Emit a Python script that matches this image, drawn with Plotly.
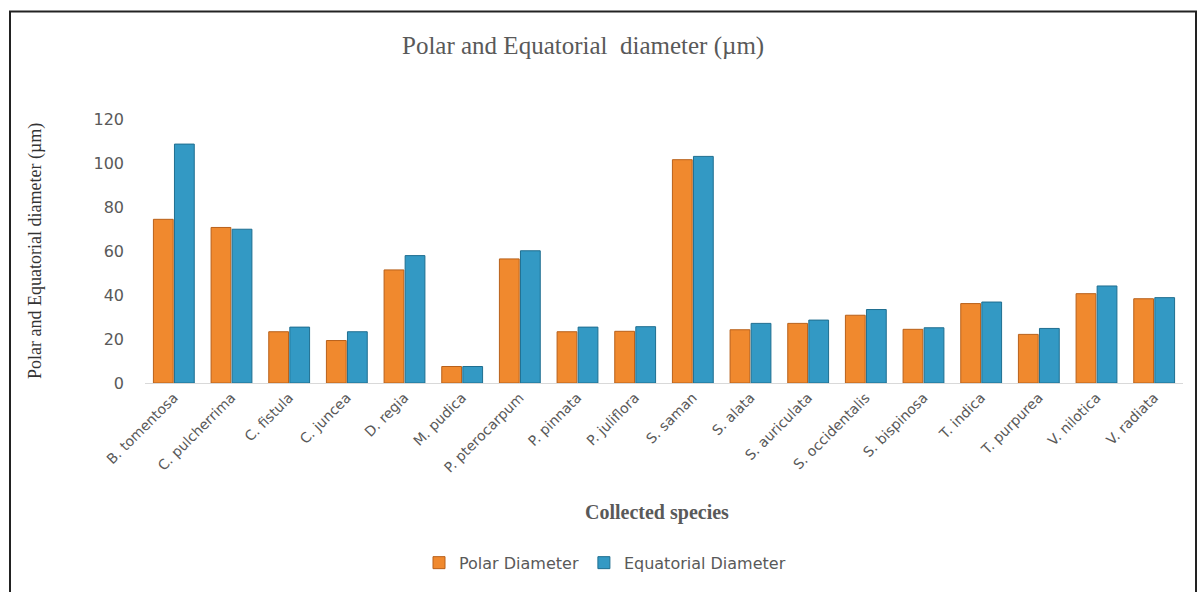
import plotly.graph_objects as go

species = ["B. tomentosa", "C. pulcherrima", "C. fistula", "C. juncea", "D. regia",
           "M. pudica", "P. pterocarpum", "P. pinnata", "P. juliflora", "S. saman",
           "S. alata", "S. auriculata", "S. occidentalis", "S. bispinosa", "T. indica",
           "T. purpurea", "V. nilotica", "V. radiata"]
polar = [74.4, 70.7, 23.3, 19.3, 51.4, 7.5, 56.4, 23.3, 23.5, 101.5,
         24.2, 27.1, 30.8, 24.4, 36.1, 22.1, 40.6, 38.3]
equatorial = [108.6, 69.9, 25.4, 23.3, 57.9, 7.5, 60.1, 25.4, 25.6, 103.0,
              27.1, 28.6, 33.4, 25.1, 36.8, 24.8, 44.1, 38.8]
y_ticks = [0, 20, 40, 60, 80, 100, 120]

W, H = 1198, 592
L, R, T, B = 145, 15, 97, 207
pw, ph = W - L - R, H - T - B


def px(x):
    return (x - L) / pw


def py(y):
    return (H - B - y) / ph


fig = go.Figure()
fig.add_trace(go.Bar(
    name="Polar Diameter", x=species, y=polar,
    marker=dict(color="#F0892E", line=dict(color="#B8601A", width=1)),
))
fig.add_trace(go.Bar(
    name="Equatorial Diameter", x=species, y=equatorial,
    marker=dict(color="#3399C4", line=dict(color="#1F6E90", width=1)),
))

grey = "#595959"
fig.update_layout(
    width=W, height=H,
    margin=dict(l=L, r=R, t=T, b=B),
    paper_bgcolor="white", plot_bgcolor="white",
    barmode="group", bargap=0.27, bargroupgap=0.06,
    showlegend=True,
    legend=dict(orientation="h", x=px(605), xanchor="center", y=py(566), yanchor="middle",
                font=dict(family="DejaVu Sans", size=16, color=grey),
                itemwidth=30, tracegroupgap=0),
    xaxis=dict(tickangle=-45, tickfont=dict(family="DejaVu Sans", size=14, color=grey),
               showline=True, linecolor="#D9D9D9", linewidth=1, ticks="",
               showgrid=False),
    yaxis=dict(range=[0, 130], tickvals=y_ticks, showgrid=False, zeroline=False,
               tickfont=dict(family="DejaVu Sans", size=16, color=grey), ticks="",
               ticklabelstandoff=20),
)

fig.add_annotation(text="Polar and Equatorial  diameter (µm)", xref="paper", yref="paper",
                   x=px(583), y=py(46), xanchor="center", yanchor="middle", showarrow=False,
                   font=dict(family="Liberation Serif", size=25, color=grey))
fig.add_annotation(text="Polar and Equatorial diameter (µm)", xref="paper", yref="paper",
                   x=px(36), y=py(252), xanchor="center", yanchor="middle", showarrow=False,
                   textangle=-90, font=dict(family="Liberation Serif", size=18, color="#333333"))
fig.add_annotation(text="<b>Collected species</b>", xref="paper", yref="paper",
                   x=px(657), y=py(515), xanchor="center", yanchor="middle", showarrow=False,
                   font=dict(family="Liberation Serif", size=20, color=grey))

# outer frame around the chart
fig.add_shape(type="rect", xref="paper", yref="paper",
              x0=px(10), x1=px(1196), y0=py(600), y1=py(11),
              line=dict(color="#222222", width=2), fillcolor="rgba(0,0,0,0)", layer="above")

fig.write_html("out.html")
